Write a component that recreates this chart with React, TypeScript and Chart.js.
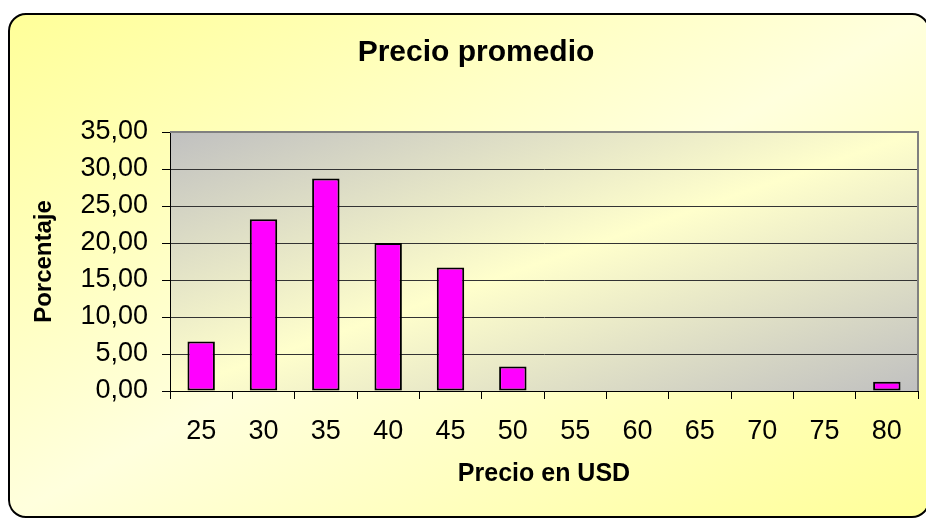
import React, { useEffect, useRef } from "react";
import { Chart, registerables } from "chart.js";

Chart.register(...registerables);

const categories: string[] = ["25", "30", "35", "40", "45", "50", "55", "60", "65", "70", "75", "80"];
const percentages: number[] = [6.7, 23.2, 28.7, 20.0, 16.7, 3.3, 0, 0, 0, 0, 0, 1.25];
const yTickValues: number[] = [0, 5, 10, 15, 20, 25, 30, 35];

const FONT = "'Liberation Sans', Arial, sans-serif";

const plotBg = {
  id: "plotBg",
  beforeDraw(chart: any) {
    const { ctx, chartArea: a } = chart;
    const w = a.right - a.left;
    const h = a.bottom - a.top;
    const n = Math.hypot(w, h);
    const L = (w * h) / n;
    const cx = (a.left + a.right) / 2;
    const cy = (a.top + a.bottom) / 2;
    const dx = h / n;
    const dy = w / n;
    const g = ctx.createLinearGradient(cx - dx * L, cy - dy * L, cx + dx * L, cy + dy * L);
    g.addColorStop(0, "#C0C0C0");
    g.addColorStop(0.5, "#FFFFCC");
    g.addColorStop(1, "#C0C0C0");
    ctx.save();
    ctx.fillStyle = g;
    ctx.fillRect(a.left, a.top, w, h);
    ctx.restore();
  },
  afterDatasetsDraw(chart: any) {
    const { ctx, chartArea: a } = chart;
    ctx.save();
    ctx.strokeStyle = "#808080";
    ctx.lineWidth = 2;
    ctx.beginPath();
    ctx.moveTo(a.left, a.top);
    ctx.lineTo(a.right, a.top);
    ctx.lineTo(a.right, a.bottom);
    ctx.stroke();
    ctx.restore();
  },
};

export default function App() {
  const ref = useRef<HTMLCanvasElement | null>(null);

  useEffect(() => {
    if (!ref.current) return;
    const chart = new Chart(ref.current, {
      type: "bar",
      data: {
        labels: categories,
        datasets: [
          {
            label: "Porcentaje",
            data: percentages,
            backgroundColor: "#FF00FF",
            borderColor: "#000000",
            borderWidth: 2,
            borderSkipped: false,
            categoryPercentage: 1,
            barPercentage: 0.44,
          },
        ],
      },
      options: {
        animation: false,
        responsive: false,
        devicePixelRatio: 1,
        layout: { padding: { left: 34, right: 8, top: 0, bottom: 0 } },
        plugins: {
          legend: { display: false },
          tooltip: { enabled: false },
          title: {
            display: true,
            text: "Precio promedio",
            color: "#000",
            font: { family: FONT, size: 30, weight: "bold", lineHeight: 1.2 },
            padding: { top: 35, bottom: 61 },
          },
        },
        scales: {
          x: {
            afterFit: (s: any) => {
              s.height = 128;
            },
            grid: {
              display: true,
              drawOnChartArea: false,
              drawTicks: true,
              tickLength: 8,
              offset: true,
              color: "#000",
              tickColor: "#000",
            },
            border: { display: true, color: "#000", width: 1 },
            ticks: {
              color: "#000",
              font: { family: FONT, size: 27, lineHeight: 1.2 },
              padding: 16,
              autoSkip: false,
              maxRotation: 0,
            },
            title: {
              display: true,
              text: "Precio en USD",
              color: "#000",
              font: { family: FONT, size: 25, weight: "bold", lineHeight: 1.2 },
              padding: { top: 0, bottom: 30 },
            },
          },
          y: {
            min: 0,
            max: 35,
            afterFit: (s: any) => {
              s.width = 136;
            },
            afterBuildTicks: (s: any) => {
              s.ticks = yTickValues.map((v) => ({ value: v }));
            },
            grid: {
              display: true,
              drawTicks: true,
              tickLength: 8,
              color: (c: any) => (c.tick && c.tick.value === 35 ? "#808080" : "#333"),
              tickColor: "#000",
            },
            border: { display: true, color: "#000", width: 1 },
            ticks: {
              color: "#000",
              font: { family: FONT, size: 27, lineHeight: 1.2 },
              padding: 14,
              callback: (v: any) => Number(v).toFixed(2).replace(".", ","),
            },
            title: {
              display: true,
              text: "Porcentaje",
              color: "#000",
              font: { family: FONT, size: 24, weight: "bold", lineHeight: 0.9 },
              padding: { top: 0, bottom: 0 },
            },
          },
        },
      },
      plugins: [plotBg],
    });
    return () => chart.destroy();
  }, []);

  return (
    <div
      style={{
        position: "fixed",
        left: 0,
        top: 0,
        width: 926,
        height: 519,
        overflow: "hidden",
        background: "#fff",
      }}
    >
      <div
        style={{
          position: "absolute",
          left: 8,
          top: 13,
          width: 922,
          height: 505,
          boxSizing: "border-box",
          border: "2px solid #000",
          borderRadius: 18,
          background: "linear-gradient(to bottom right, #FFFF99 0%, #FFFFDD 50%, #FFFF99 100%)",
        }}
      />
      <canvas
        ref={ref}
        width={926}
        height={519}
        style={{ position: "absolute", left: 0, top: 0, width: 926, height: 519 }}
      />
    </div>
  );
}
